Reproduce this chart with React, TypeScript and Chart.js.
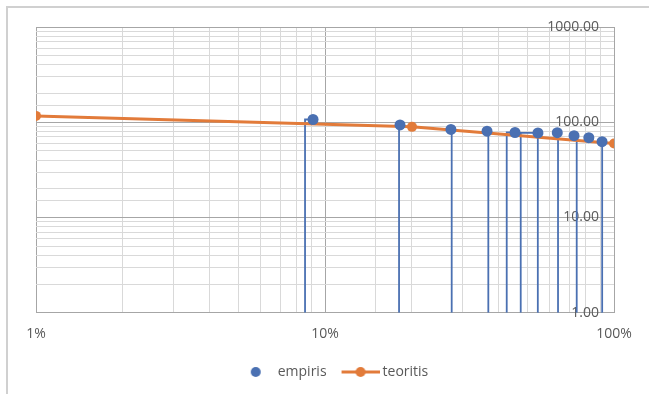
import React, { useEffect, useRef } from "react";
import { Chart, registerables } from "chart.js";

Chart.register(...registerables);

// ---- data ----
const empirisX = [0.0909, 0.1818, 0.2727, 0.3636, 0.4545, 0.5455, 0.6364, 0.7273, 0.8182, 0.9091];
const empirisY = [106.8, 93.8, 84.1, 80.5, 78.0, 77.3, 77.6, 72.2, 68.8, 62.5];

const teoritisX = [0.01, 0.2, 1];
const teoritisY = [116.6, 89.4, 59.8];

// vertical drop lines of the empiris series (as drawn in the source picture)
const stemX = [0.0853, 0.1804, 0.2744, 0.3674, 0.4254, 0.4756, 0.5445, 0.6402, 0.743, 0.911];
const stemTop = [106.8, 93.8, 84.1, 80.5, 78.0, 77.3, 77.3, 77.6, 72.2, 62.5];
const stemLinkX = [0.0909, 0.1818, 0.2727, 0.3636, 0.4545, 0.5455, 0.5455, 0.6364, 0.7273, 0.9091];

const xMajorTicks = [0.01, 0.1, 1];
const xMajorLabels = ["1%", "10%", "100%"];
const yMajorTicks = [1, 10, 100, 1000];
const yMajorLabels = ["1.00", "10.00", "100.00", "1000.00"];

const BLUE = "#4a70b2";
const ORANGE = "#e27b3a";
const TEXT = "#595959";
const MAJOR_GRID = "#a6a6a6";
const MINOR_GRID = "#d9d9d9";
const FONT = "'Open Sans', 'Liberation Sans', sans-serif";

const findMajor = (list: number[], v: number) =>
  list.findIndex((m) => Math.abs(m - v) / m < 1e-6);

function makeSymbol(withLine: boolean, color: string): HTMLCanvasElement {
  const c = document.createElement("canvas");
  c.width = 47;
  c.height = 12;
  const ctx = c.getContext("2d")!;
  const cx = 9 + 19;
  if (withLine) {
    ctx.strokeStyle = color;
    ctx.lineWidth = 3;
    ctx.beginPath();
    ctx.moveTo(9, 6);
    ctx.lineTo(47, 6);
    ctx.stroke();
  }
  ctx.fillStyle = color;
  ctx.beginPath();
  ctx.arc(cx, 6, 5, 0, Math.PI * 2);
  ctx.fill();
  return c;
}

const legendShift = {
  id: "legendShift",
  afterLayout(chart: any) {
    if (chart.legend) {
      chart.legend.left += 5;
      chart.legend.right += 5;
    }
  },
};

export default function App() {
  const ref = useRef<HTMLCanvasElement | null>(null);

  useEffect(() => {
    if (!ref.current) return;
    const stemData: any[] = [];
    stemX.forEach((sx, i) => {
      stemData.push({ x: sx, y: 1 });
      stemData.push({ x: sx, y: stemTop[i] });
      stemData.push({ x: stemLinkX[i], y: stemTop[i] });
      stemData.push({ x: stemLinkX[i], y: null });
    });

    const symEmpiris = makeSymbol(false, BLUE);
    const symTeoritis = makeSymbol(true, ORANGE);

    const chart = new Chart(ref.current, {
      type: "scatter",
      plugins: [legendShift],
      data: {
        datasets: [
          {
            label: "empiris",
            data: empirisX.map((x, i) => ({ x, y: empirisY[i] })),
            backgroundColor: BLUE,
            borderColor: BLUE,
            pointRadius: 5.5,
            pointBorderWidth: 0,
            showLine: false,
            order: 1,
          },
          {
            label: "teoritis",
            data: teoritisX.map((x, i) => ({ x, y: teoritisY[i] })),
            backgroundColor: ORANGE,
            borderColor: ORANGE,
            borderWidth: 3,
            pointRadius: 5,
            pointBorderWidth: 0,
            showLine: true,
            order: 2,
          },
          {
            label: "stems",
            data: stemData,
            borderColor: BLUE,
            borderWidth: 1.8,
            pointRadius: 0,
            showLine: true,
            spanGaps: false,
            order: 3,
          } as any,
        ],
      },
      options: {
        animation: false,
        responsive: false,
        devicePixelRatio: 1,
        layout: { padding: { left: 36, right: 35, top: 27, bottom: 5 } },
        plugins: {
          tooltip: { enabled: false },
          legend: {
            position: "bottom",
            labels: {
              usePointStyle: true,
              pointStyleWidth: 39,
              boxHeight: 12,
              padding: 10,
              color: TEXT,
              font: { family: FONT, size: 14 },
              filter: (item: any) => item.text !== "stems",
              generateLabels: (chart: any) => {
                const base = Chart.defaults.plugins.legend.labels.generateLabels(chart);
                return base.map((it: any) => ({
                  ...it,
                  pointStyle: it.text === "teoritis" ? symTeoritis : symEmpiris,
                }));
              },
            },
          },
        },
        scales: {
          x: {
            type: "logarithmic",
            min: 0.01,
            max: 1,
            afterFit: (s: any) => {
              s.height = 42.3;
            },
            border: { color: MAJOR_GRID, width: 1 },
            grid: {
              drawTicks: false,
              color: (ctx: any) =>
                ctx.tick && findMajor(xMajorTicks, ctx.tick.value) >= 0 ? MAJOR_GRID : MINOR_GRID,
            },
            ticks: {
              autoSkip: false,
              maxRotation: 0,
              padding: 13,
              color: TEXT,
              font: { family: FONT, size: 14 },
              callback: (v: any) => {
                const i = findMajor(xMajorTicks, Number(v));
                return i >= 0 ? xMajorLabels[i] : "";
              },
            },
          },
          y: {
            type: "logarithmic",
            position: "right",
            min: 1,
            max: 1000,
            afterFit: (s: any) => {
              s.width = 0;
            },
            border: { color: MAJOR_GRID, width: 1 },
            grid: {
              drawTicks: false,
              color: (ctx: any) =>
                ctx.tick && findMajor(yMajorTicks, ctx.tick.value) >= 0 ? MAJOR_GRID : MINOR_GRID,
            },
            ticks: {
              autoSkip: false,
              mirror: true,
              padding: -15,
              color: TEXT,
              font: { family: FONT, size: 14 },
              callback: (v: any) => {
                const i = findMajor(yMajorTicks, Number(v));
                return i >= 0 ? yMajorLabels[i] : "";
              },
            },
          },
        },
      },
    });
    return () => chart.destroy();
  }, []);

  return (
    <div
      style={{
        position: "fixed",
        left: 0,
        top: 0,
        width: 649,
        height: 394,
        overflow: "hidden",
        background: "#ffffff",
      }}
    >
      <div
        style={{
          position: "absolute",
          left: 6,
          top: 6,
          width: 700,
          height: 500,
          border: "2px solid #d0d0d0",
          boxSizing: "border-box",
        }}
      />
      <canvas
        ref={ref}
        width={649}
        height={394}
        style={{ position: "absolute", left: 0, top: 0, width: 649, height: 394 }}
      />
    </div>
  );
}
